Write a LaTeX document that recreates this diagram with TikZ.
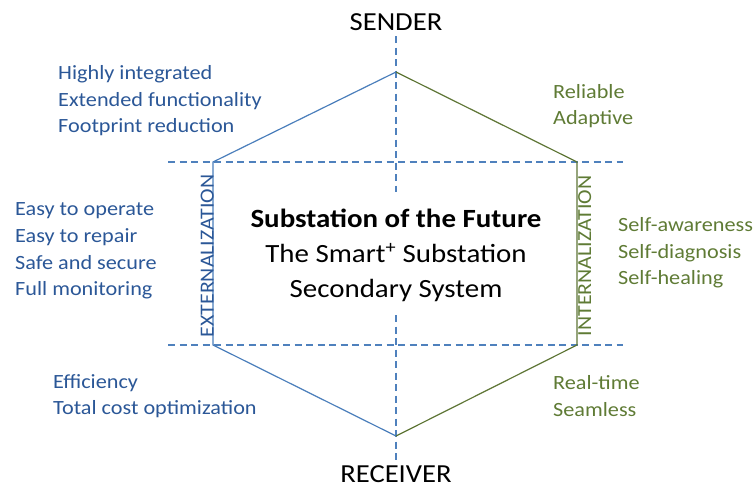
\documentclass[tikz,border=0pt]{standalone}
\usepackage{fontspec}
\setmainfont{Carlito}[FakeStretch=1.1]
\usepackage{tikz}
\usetikzlibrary{positioning}

\definecolor{extblue}{HTML}{4A7EBB}
\definecolor{exttext}{HTML}{2B5797}
\definecolor{intgreen}{HTML}{5E7535}
\definecolor{inttext}{HTML}{5F7B35}
\definecolor{axisblue}{HTML}{4F81BD}

\tikzset{
  axis/.style={axisblue, line width=1.3pt, dash pattern=on 7pt off 4.5pt},
  extside/.style={extblue, line width=1.2pt},
  intside/.style={intgreen, line width=1.2pt},
  pole/.style={font=\fontsize{26}{30}\selectfont, inner sep=0pt, anchor=base},
  extlist/.style={exttext, align=left, anchor=west, inner sep=0pt,
    font=\fontsize{20.2}{26.6}\selectfont},
  intlist/.style={inttext, align=left, anchor=west, inner sep=0pt,
    font=\fontsize{20.2}{26.6}\selectfont},
  sidelabel/.style={rotate=90, inner sep=0pt, font=\fontsize{19.9}{22}\selectfont}
}

\begin{document}
\begin{tikzpicture}[x=1pt, y=-1pt]
    \useasboundingbox (0, 0) rectangle (754, 488);

    % hexagon corners
    \coordinate (top) at (396, 72);
    \coordinate (upleft) at (213, 162);
    \coordinate (upright) at (577, 162);
    \coordinate (lowleft) at (213, 345);
    \coordinate (lowright) at (577, 345);
    \coordinate (bottom) at (396, 436);

    % dashed axes
    \coordinate (axtop) at (396, 36);
    \coordinate (axmidtop) at (396, 192);
    \coordinate (axmidbot) at (396, 315);
    \coordinate (axbot) at (396, 462);
    \coordinate (hupl) at (168, 162);
    \coordinate (hupr) at (623, 162);
    \coordinate (hlowl) at (168, 345);
    \coordinate (hlowr) at (623, 345);

    \draw [axis] (axtop) -- (axmidtop);
    \draw [axis] (axmidbot) -- (axbot);
    \draw [axis] (hupl) -- (hupr);
    \draw [axis] (hlowl) -- (hlowr);

    \draw [extside] (top) -- (upleft) -- (lowleft) -- (bottom);
    \draw [intside] (top) -- (upright) -- (lowright) -- (bottom);

    \node [pole] (sender) at (396, 30.5) {SENDER};
    \node [pole] (receiver) at (396, 482) {RECEIVER};

    \node [sidelabel, exttext, anchor=south] (ext) at (214, 256) {EXTERNALIZATION};
    \node [sidelabel, inttext, anchor=north] (int) at (578, 256) {INTERNALIZATION};

    \node [align=center, inner sep=0pt, font=\fontsize{26.3}{35}\selectfont] (core) at (396, 255)
      {\textbf{Substation of the Future}\\The Smart\textsuperscript{+} Substation\\Secondary System};

    \node [extlist] (design) at (58, 101) {Highly integrated\\Extended functionality\\Footprint reduction};
    \node [extlist] (usage) at (15, 251) {Easy to operate\\Easy to repair\\Safe and secure\\Full monitoring};
    \node [extlist] (cost) at (53, 396) {Efficiency\\Total cost optimization};

    \node [intlist] (trust) at (553, 106) {Reliable\\Adaptive};
    \node [intlist] (self) at (618, 253) {Self-awareness\\Self-diagnosis\\Self-healing};
    \node [intlist] (timing) at (553, 396) {Real-time\\Seamless};
  \end{tikzpicture}
\end{document}
